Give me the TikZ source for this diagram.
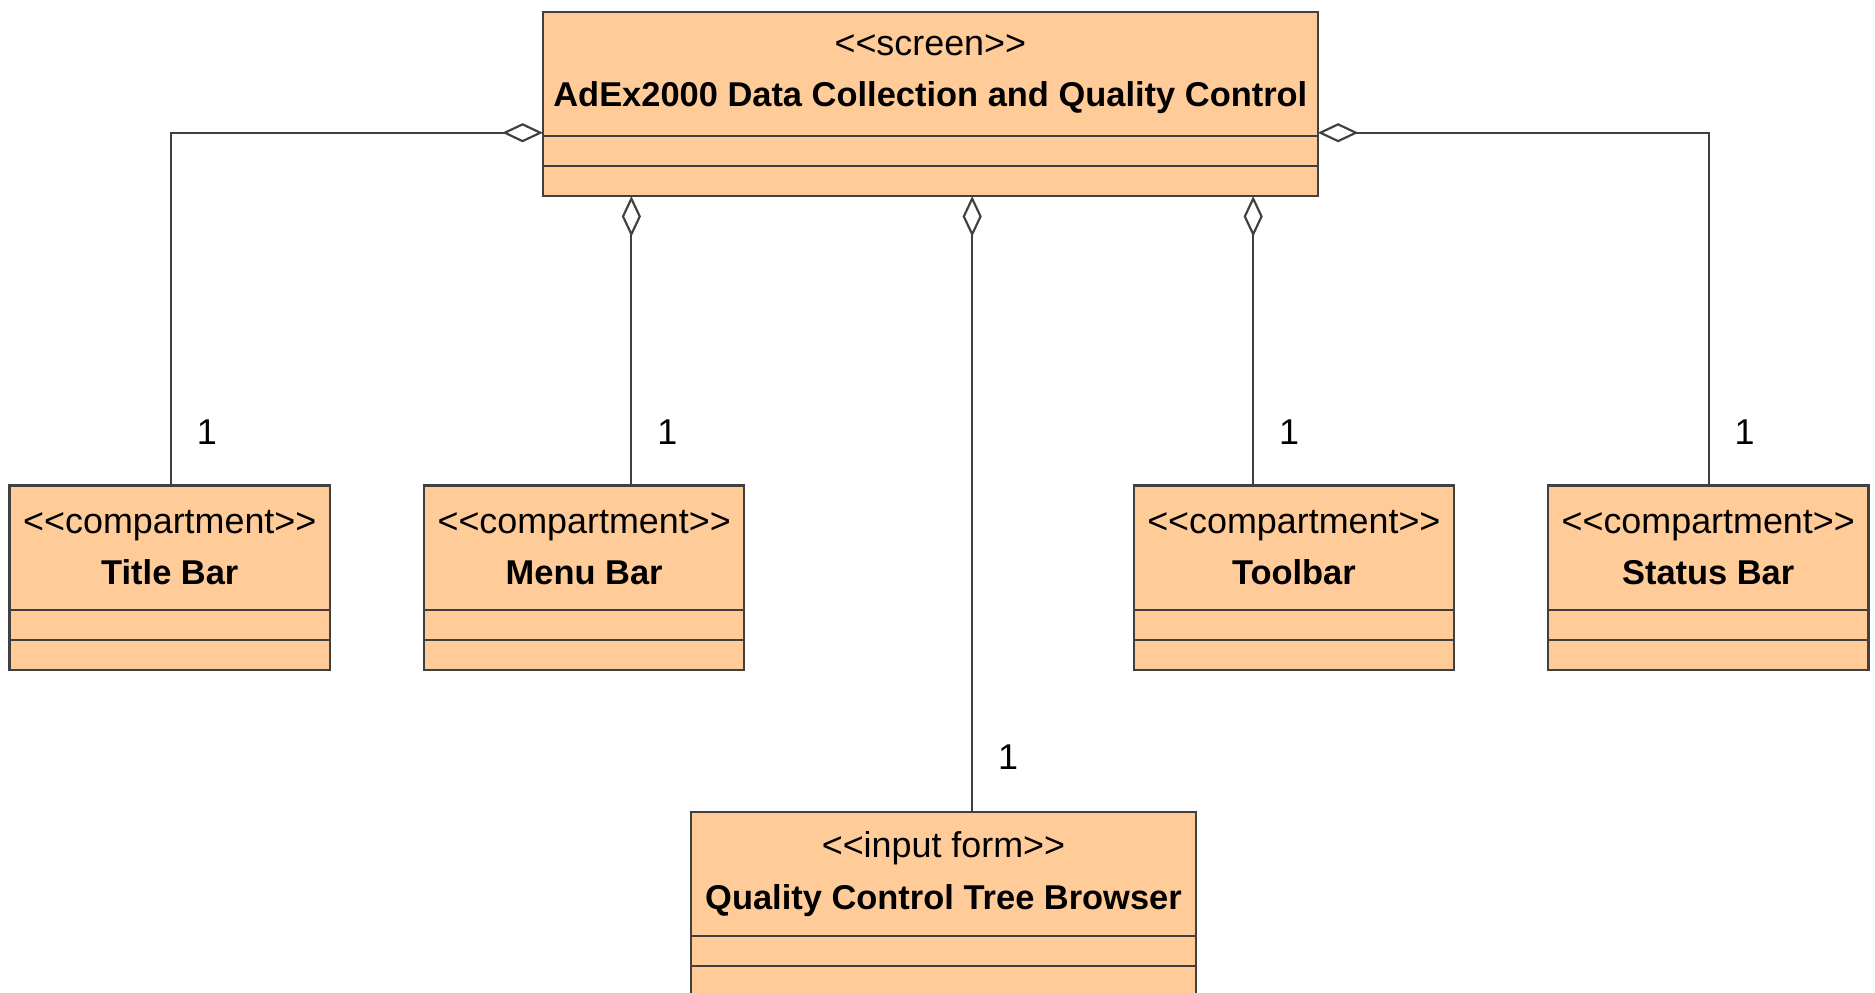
\documentclass[tikz,border=0pt]{standalone}
\usepackage{fontspec}
\setmainfont{Liberation Sans}
\usetikzlibrary{positioning,arrows.meta}
\definecolor{classfill}{RGB}{255,204,153}
\definecolor{classline}{RGB}{64,64,64}
\tikzset{
	classhead/.style={draw=classline, fill=classfill, line width=0.9pt, inner sep=0pt, outer sep=0pt, minimum height=52pt, align=center, font=\fontsize{15}{21.5}\selectfont},
	classpart/.style={draw=classline, fill=classfill, line width=0.9pt, inner sep=0pt, outer sep=0pt, minimum height=12.5pt},
	aggr/.style={draw=classline, line width=0.9pt, -{Diamond[open, fill=white, length=17pt, width=8pt]}},
	mult/.style={font=\fontsize{15}{18}\selectfont, inner sep=0pt},
}
\newcommand{\stereo}[1]{{\fontsize{15}{21.5}\selectfont{<}{<}#1{>}{>}}}
\newcommand{\cname}[1]{{\fontsize{14.4}{21.5}\selectfont\bfseries #1}}
\begin{document}
\begin{tikzpicture}[x=0.5pt, y=-0.5pt]
	\useasboundingbox (0,0) rectangle (1568,829.6);
	\clip (0,0) rectangle (1568,829.6);
	% screen class
	\node[classhead, minimum width=324pt] (s) at (778,62)
		{\stereo{screen}\\\cname{AdEx2000 Data Collection and Quality Control}};
	\node[classpart, minimum width=324pt, below=0pt of s] (s_a) {};
	\node[classpart, minimum width=324pt, below=0pt of s_a] (s_o) {};
	% compartments
	\foreach \x/\dx/\txt [count=\i] in {142/0.5/Title Bar, 488.5/19.75/Menu Bar, 1082/-17/Toolbar, 1428.5/0.25/Status Bar}
	{
		\node[classhead, minimum width=134pt] (c_\i) at (\x,458) {\stereo{compartment}\\\cname{\txt}};
		\node[classpart, minimum width=134pt, below=0pt of c_\i] (c_\i_a) {};
		\node[classpart, minimum width=134pt, below=0pt of c_\i_a] (c_\i_o) {};
		\coordinate (t_\i) at ([xshift=\dx pt]c_\i.north);
		\node[mult] (m_\i) at ([xshift=15pt, yshift=22.5pt]t_\i) {1};
	}
	% input form
	\node[classhead, minimum width=211pt] (q) at (789,731)
		{\stereo{input form}\\\cname{Quality Control Tree Browser}};
	\node[classpart, minimum width=211pt, below=0pt of q] (q_a) {};
	\node[classpart, minimum width=211pt, below=0pt of q_a] (q_o) {};
	\coordinate (t_q) at ([xshift=12pt]q.north);
	\node[mult] (m_q) at ([xshift=15pt, yshift=23pt]t_q) {1};
	% aggregations
	\draw[aggr] (t_1) |- ([yshift=1.5pt]s.south west);
	\draw[aggr] (t_4) |- ([yshift=1.5pt]s.south east);
	\foreach \i in {2,3,q}
		\draw[aggr] (t_\i) -- (t_\i |- s_o.south);
\end{tikzpicture}
\end{document}
